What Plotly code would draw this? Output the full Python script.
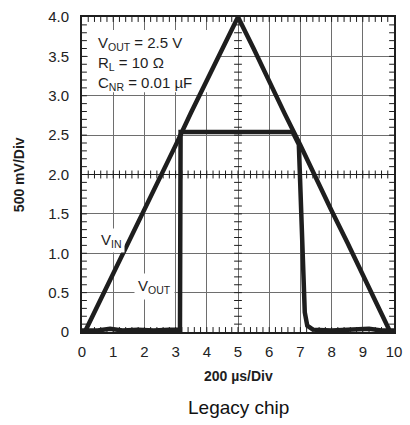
import plotly.graph_objects as go

# Input ramp (V_IN) trace, time in divisions, amplitude in divisions (500 mV/div)
vin_t = [0.09, 0.5, 1.0, 1.5, 2.0, 2.5, 3.0, 3.5, 4.0, 4.5, 5.0,
         5.5, 6.0, 6.5, 7.0, 7.5, 8.0, 8.5, 9.0, 9.5, 9.88]
vin_v = [0.0, 0.33, 0.74, 1.16, 1.56, 1.95, 2.37, 2.79, 3.19, 3.59, 4.0,
         3.60, 3.17, 2.77, 2.37, 1.94, 1.54, 1.14, 0.72, 0.32, 0.0]

# Regulator output (V_OUT) trace
vout_t = [0.0, 0.5, 0.9, 1.3, 1.8, 2.3, 2.8, 3.14, 3.16, 4.0, 5.0, 6.0, 6.75,
          6.95, 6.98, 7.03, 7.08, 7.14, 7.22, 7.4, 8.0, 8.8, 9.2, 9.6, 10.0]
vout_v = [0.02, 0.02, 0.04, 0.02, 0.03, 0.02, 0.03, 0.03, 2.54, 2.54, 2.54, 2.54, 2.54,
          2.38, 2.0, 1.2, 0.6, 0.25, 0.08, 0.03, 0.02, 0.03, 0.04, 0.02, 0.02]

x_ticks = [0, 1, 2, 3, 4, 5, 6, 7, 8, 9, 10]
y_ticks = [0, 0.5, 1.0, 1.5, 2.0, 2.5, 3.0, 3.5, 4.0]
y_tick_text = ["0", "0.5", "1.0", "1.5", "2.0", "2.5", "3.0", "3.5", "4.0"]

conditions = ["V<sub>OUT</sub> = 2.5 V", "R<sub>L</sub> = 10 Ω", "C<sub>NR</sub> = 0.01 µF"]

FONT = "Liberation Sans, Arial, sans-serif"
INK = "#1e1e1e"

W, H = 410, 425
ML, MR, MT, MB = 82, 8, 14, 93
PW, PH = W - ML - MR, H - MT - MB
X0, X1, Y0, Y1 = 0, 10, 0, 4


def px_to_x(px):
    return X0 + (px - ML) / PW * (X1 - X0)


def py_to_y(py):
    return Y0 + (H - MB - py) / PH * (Y1 - Y0)


def paper_x(px):
    return (px - ML) / PW


def paper_y(py):
    return (H - MB - py) / PH


# Minor tick marks on the frame and on the centre cross-hair
tx, ty = [], []
tick_dx = 5 / PW * (X1 - X0)     # 5 px expressed in x units
tick_dy = 5 / PH * (Y1 - Y0)     # 5 px expressed in y units
half_dx = 4 / PW * (X1 - X0)
half_dy = 4 / PH * (Y1 - Y0)
for i in range(1, 50):
    xv = i * 0.2
    tx += [xv, xv, None, xv, xv, None, xv, xv, None]
    ty += [Y0, Y0 + tick_dy, None, Y1, Y1 - tick_dy, None, 2.0 - half_dy, 2.0 + half_dy, None]
for i in range(1, 40):
    yv = i * 0.1
    tx += [X0, X0 + tick_dx, None, X1, X1 - tick_dx, None, 5.0 - half_dx, 5.0 + half_dx, None]
    ty += [yv, yv, None, yv, yv, None, yv, yv, None]

fig = go.Figure()
fig.add_trace(go.Scatter(x=tx, y=ty, mode="lines", line=dict(color=INK, width=1),
                         hoverinfo="skip", showlegend=False))
fig.add_trace(go.Scatter(x=vin_t, y=vin_v, mode="lines", name="V_IN",
                         line=dict(color=INK, width=4.5), showlegend=False))
fig.add_trace(go.Scatter(x=vout_t, y=vout_v, mode="lines", name="V_OUT",
                         line=dict(color=INK, width=4.5), showlegend=False))

# centre horizontal graticule line
fig.add_shape(type="line", xref="x", yref="y", x0=X0, x1=X1, y0=2.0, y1=2.0,
              line=dict(color=INK, width=1), layer="between")

# white backing for the conditions block (above grid, below traces)
fig.add_shape(type="rect", xref="x", yref="y",
              x0=px_to_x(88), x1=px_to_x(222), y0=py_to_y(90), y1=py_to_y(27),
              fillcolor="white", line=dict(width=0), layer="between")

annotations = []
for k, txt in enumerate(conditions):
    annotations.append(dict(x=px_to_x(96), y=py_to_y(41 + 20 * k), xref="x", yref="y",
                            text=txt, showarrow=False, xanchor="left", yanchor="middle",
                            font=dict(family=FONT, size=15, color=INK)))
annotations.append(dict(x=px_to_x(112), y=py_to_y(240), xref="x", yref="y",
                        text="V<sub>IN</sub>", showarrow=False, bgcolor="white", borderpad=2,
                        font=dict(family=FONT, size=15, color=INK)))
annotations.append(dict(x=px_to_x(156), y=py_to_y(286), xref="x", yref="y",
                        text="V<sub>OUT</sub>", showarrow=False, bgcolor="white", borderpad=3,
                        font=dict(family=FONT, size=15, color=INK)))
annotations.append(dict(x=0.5, y=paper_y(376), xref="paper", yref="paper",
                        text="<b>200 µs/Div</b>", showarrow=False, yanchor="middle",
                        font=dict(family=FONT, size=14, color=INK)))
annotations.append(dict(x=paper_x(17), y=0.5, xref="paper", yref="paper",
                        text="<b>500 mV/Div</b>", showarrow=False, textangle=-90,
                        xanchor="center", yanchor="middle",
                        font=dict(family=FONT, size=14, color=INK)))
annotations.append(dict(x=0.5, y=paper_y(408), xref="paper", yref="paper",
                        text="Legacy chip", showarrow=False, yanchor="middle",
                        font=dict(family=FONT, size=19, color="#111")))

fig.update_layout(
    width=W, height=H,
    margin=dict(l=ML, r=MR, t=MT, b=MB),
    paper_bgcolor="white", plot_bgcolor="white",
    annotations=annotations,
    xaxis=dict(range=[X0, X1], tickvals=x_ticks, ticks="", showgrid=True,
               gridcolor="#6e6e6e", gridwidth=1, zeroline=False,
               showline=True, linecolor=INK, linewidth=2, mirror=True,
               tickfont=dict(family=FONT, size=15, color="#222"),
               ticklabelstandoff=5, fixedrange=True),
    yaxis=dict(range=[Y0, Y1], tickvals=y_ticks, ticktext=y_tick_text, ticks="",
               showgrid=True, gridcolor="#6e6e6e", gridwidth=1, zeroline=False,
               showline=True, linecolor=INK, linewidth=2, mirror=True,
               tickfont=dict(family=FONT, size=15, color="#222"),
               ticklabelstandoff=8, fixedrange=True),
)

fig.write_html("out.html")
